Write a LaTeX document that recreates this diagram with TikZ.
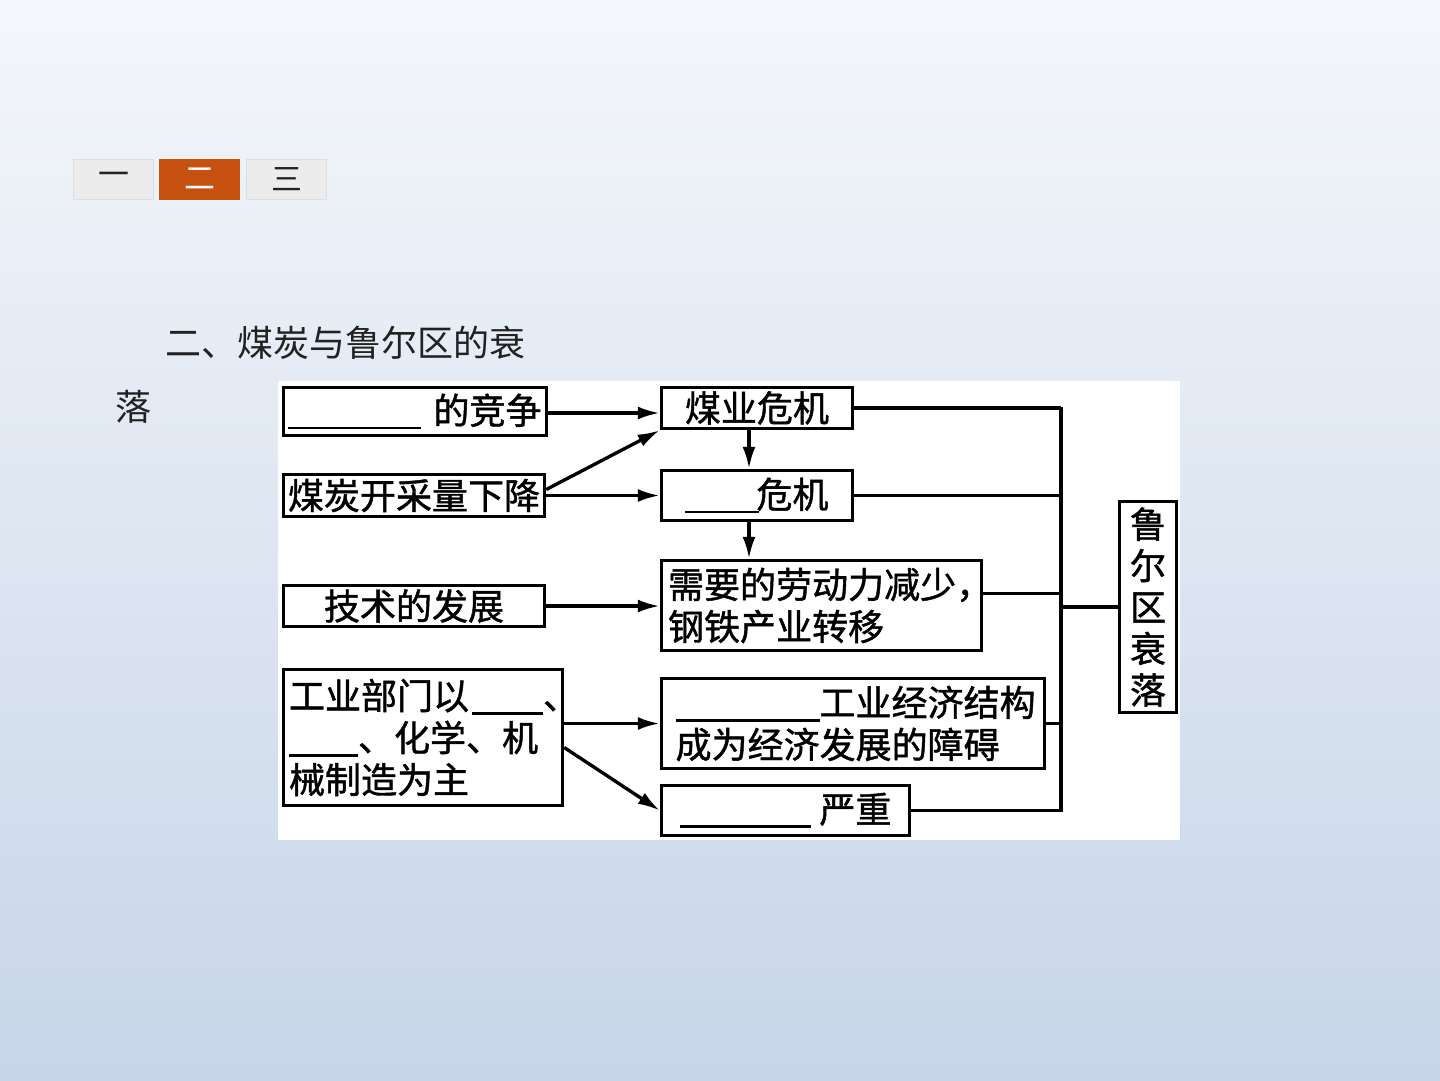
\documentclass[tikz,border=0pt]{standalone}
\usepackage{fontspec}
\newfontfamily\cjk{Noto Sans CJK SC}
\newfontfamily\cjkb[FakeBold=1.2]{Noto Sans CJK SC}
\usetikzlibrary{arrows.meta}
\definecolor{bgtop}{RGB}{244,247,251}
\definecolor{bgmid}{RGB}{226,234,244}
\definecolor{bgbot}{RGB}{199,213,232}
\definecolor{tabgray}{RGB}{236,236,236}
\definecolor{tabedge}{RGB}{222,222,222}
\definecolor{taborange}{RGB}{197,80,16}
\definecolor{titletext}{RGB}{34,34,34}
\newcommand\blankrule[1]{\rule[-0.15em]{#1}{1.6pt}}
\newcommand\halfmark[1]{\makebox[0.5em][l]{#1}}
\tikzset{
  tabbox/.style={draw=tabedge, line width=0.5pt, minimum width=1.6cm, minimum height=0.8cm, inner sep=0,
    font=\cjk\fontsize{17.6pt}{20pt}\selectfont},
  flowbox/.style={draw, line width=2pt, inner sep=0, fill=white,
    font=\cjkb\fontsize{20.5pt}{23.9pt}\selectfont},
  conn/.style={line width=1.9pt},
  arr/.style={line width=1.9pt, -{Latex[length=0.44cm,width=0.26cm]}}
}
\begin{document}
\begin{tikzpicture}[x=0.02cm,y=-0.02cm]
\useasboundingbox (0,0) rectangle (1440,1080);
\shade[top color=bgtop, middle color=bgmid, bottom color=bgbot] (0,0) rectangle (1440,1080);

% tabs
\node[tabbox, fill=tabgray, text=titletext] (t1) at (113.5,179) {一};
\node[tabbox, draw=taborange, fill=taborange, text=white] (t2) at (199.5,179) {二};
\node[tabbox, fill=tabgray, text=titletext] (t3) at (286.5,179) {三};

% title
\node[anchor=west, inner sep=0, text=titletext, font=\cjk\fontsize{20.5pt}{24pt}\selectfont] (title) at (165,343) {二、煤炭与鲁尔区的衰};
\node[inner sep=0, text=titletext, font=\cjk\fontsize{20.5pt}{24pt}\selectfont] (title2) at (133.5,407) {落};

% white panel
\fill[white] (278,381) rectangle (1180,840);

% left boxes
\node[flowbox, minimum width=5.26cm, minimum height=0.96cm] (A) at (415,411.5) {\blankrule{2.66cm}\hspace{0.24cm}的竞争};
\node[flowbox, minimum width=5.22cm, minimum height=0.84cm] (B) at (414,495.5) {煤炭开采量下降};
\node[flowbox, minimum width=5.22cm, minimum height=0.82cm] (C) at (414,606) {技术的发展};
\node[flowbox, minimum width=5.58cm, minimum height=2.72cm, text width=5.36cm, align=left, inner xsep=0.11cm] (D) at (423,737.5)
  {\mbox{工业部门以\hspace*{0.06cm}\blankrule{1.42cm}\halfmark{、}}\\\mbox{\blankrule{1.38cm}、化学、机}\\械制造为主};

% middle boxes
\node[flowbox, minimum width=3.82cm, minimum height=0.82cm] (E) at (757,408) {煤业危机};
\node[flowbox, minimum width=3.82cm, minimum height=1.0cm] (F) at (757,495.5) {\blankrule{1.48cm}\hspace{-0.06cm}危机};
\node[flowbox, minimum width=6.4cm, minimum height=1.8cm, text width=6.14cm, align=left, inner xsep=0.13cm] (G) at (821.5,605.5)
  {\mbox{需要的劳动力减少\halfmark{，}}\\钢铁产业转移};
\node[flowbox, minimum width=7.66cm, minimum height=1.8cm, text width=7.1cm, align=left, inner xsep=0.28cm] (H) at (853,723.5)
  {\mbox{\blankrule{2.88cm}工业经济结构}\\成为经济发展的障碍};
\node[flowbox, minimum width=4.96cm, minimum height=1.0cm] (I) at (785.5,810.5) {\blankrule{2.64cm}\hspace{0.16cm}严重};

% right box
\node[flowbox, minimum width=1.14cm, minimum height=4.22cm, align=center, font=\cjkb\fontsize{20.5pt}{23.6pt}\selectfont] (J) at (1148,607)
  {鲁\\尔\\区\\衰\\落};

% arrows
\draw[arr] (A.east |- 0,413) -- (E.west |- 0,413);
\draw[arr] ([shift={(0,-6)}]B.east) -- (E.south west);
\draw[arr] (B.east) -- (B.east -| F.west);
\draw[arr] ([shift={(-8,0)}]E.south) -- ([shift={(-8,0)}]E.south |- F.north);
\draw[arr] ([shift={(-8,0)}]F.south) -- ([shift={(-8,0)}]F.south |- G.north);
\draw[arr] (C.east) -- (C.east -| G.west);
\draw[arr] (D.east |- H.west) -- (H.west);
\draw[arr] ([shift={(0,10)}]D.east) -- (I.west);

% bus to right box
\coordinate (bus) at (1061,607);
\draw[conn] (E.east) -- (E.east -| bus);
\draw[conn] (F.east) -- (F.east -| bus);
\draw[conn] ([shift={(0,-12)}]G.east) -- ([shift={(0,-12)}]G.east -| bus);
\draw[conn] (H.east) -- (H.east -| bus);
\draw[conn] (I.east) -- (I.east -| bus);
\draw[conn] ([shift={(0,-1)}]E.east -| bus) -- ([shift={(0,1)}]I.east -| bus);
\draw[conn] (bus) -- (J.west);
\end{tikzpicture}
\end{document}
